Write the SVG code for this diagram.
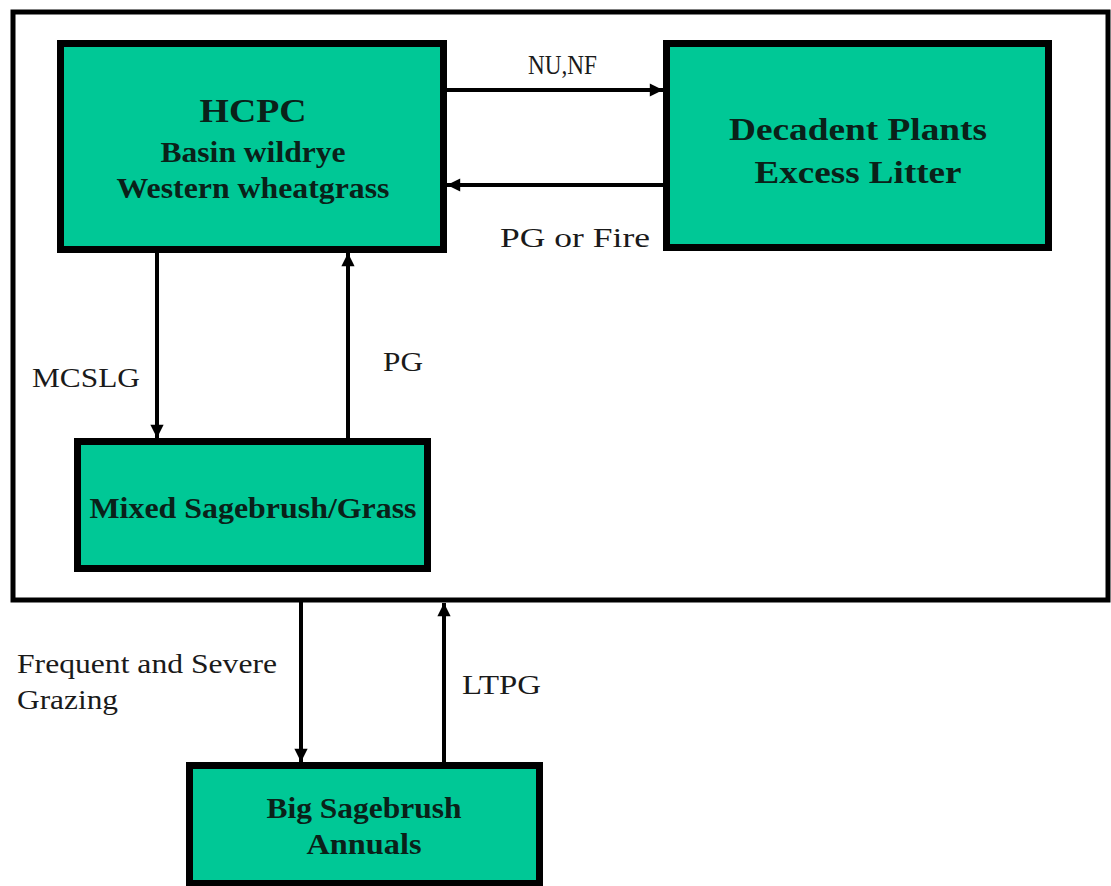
<svg xmlns="http://www.w3.org/2000/svg" width="1111" height="886" viewBox="0 0 1111 886">
<style>
.box{fill:#00c896;stroke:#000;stroke-width:7}
.nt{font-family:"Liberation Serif",serif;font-weight:bold;fill:#0a2119;text-anchor:middle}
.lb{font-family:"Liberation Serif",serif;fill:#1a1a1a;font-size:28px}
.cn{stroke:#000;stroke-width:4;fill:none}
</style>
<defs>
<marker id="ah" viewBox="0 0 10 10" refX="10" refY="5" markerWidth="3.5" markerHeight="3.3" orient="auto" markerUnits="strokeWidth">
<path d="M0,0 L10,5 L0,10 Z" fill="#000"/>
</marker>
</defs>
<rect width="1111" height="886" fill="#fff"/>
<rect id="frame" x="13" y="12" width="1095" height="588" fill="none" stroke="#000" stroke-width="5"/>
<g id="hcpc">
<rect class="box" x="60.5" y="43.5" width="383" height="206"/>
<text class="nt" x="253" y="122" font-size="34" textLength="107" lengthAdjust="spacingAndGlyphs">HCPC</text>
<text class="nt" x="253" y="162" font-size="30" textLength="185" lengthAdjust="spacingAndGlyphs">Basin wildrye</text>
<text class="nt" x="253" y="198" font-size="30" textLength="273" lengthAdjust="spacingAndGlyphs">Western wheatgrass</text>
</g>
<g id="decadent">
<rect class="box" x="666.5" y="43.5" width="382" height="204"/>
<text class="nt" x="858" y="140" font-size="32" textLength="258" lengthAdjust="spacingAndGlyphs">Decadent Plants</text>
<text class="nt" x="858" y="183" font-size="32" textLength="207" lengthAdjust="spacingAndGlyphs">Excess Litter</text>
</g>
<g id="mixed">
<rect class="box" x="77.5" y="441.5" width="350" height="127"/>
<text class="nt" x="253" y="518" font-size="30" textLength="327" lengthAdjust="spacingAndGlyphs">Mixed Sagebrush/Grass</text>
</g>
<g id="bigsage">
<rect class="box" x="189.5" y="765.5" width="350" height="118"/>
<text class="nt" x="364" y="818" font-size="30" textLength="195" lengthAdjust="spacingAndGlyphs">Big Sagebrush</text>
<text class="nt" x="364" y="854" font-size="30" textLength="115" lengthAdjust="spacingAndGlyphs">Annuals</text>
</g>
<g id="connectors">
<line class="cn" x1="447" y1="90" x2="663" y2="90" marker-end="url(#ah)"/>
<line class="cn" x1="663" y1="185" x2="447" y2="185" marker-end="url(#ah)"/>
<line class="cn" x1="157" y1="253" x2="157" y2="438" marker-end="url(#ah)"/>
<line class="cn" x1="348" y1="438" x2="348" y2="253" marker-end="url(#ah)"/>
<line class="cn" x1="301" y1="602" x2="301" y2="762" marker-end="url(#ah)"/>
<line class="cn" x1="444" y1="762" x2="444" y2="603" marker-end="url(#ah)"/>
</g>
<g id="labels">
<text class="lb" x="528" y="74" textLength="69" lengthAdjust="spacingAndGlyphs">NU,NF</text>
<text class="lb" x="500" y="247" textLength="150" lengthAdjust="spacingAndGlyphs">PG or Fire</text>
<text class="lb" x="32" y="387" textLength="108" lengthAdjust="spacingAndGlyphs">MCSLG</text>
<text class="lb" x="383" y="371" textLength="40" lengthAdjust="spacingAndGlyphs">PG</text>
<text class="lb" x="17" y="673" textLength="260" lengthAdjust="spacingAndGlyphs">Frequent and Severe</text>
<text class="lb" x="17" y="709" textLength="101" lengthAdjust="spacingAndGlyphs">Grazing</text>
<text class="lb" x="462" y="694" textLength="79" lengthAdjust="spacingAndGlyphs">LTPG</text>
</g>
</svg>
